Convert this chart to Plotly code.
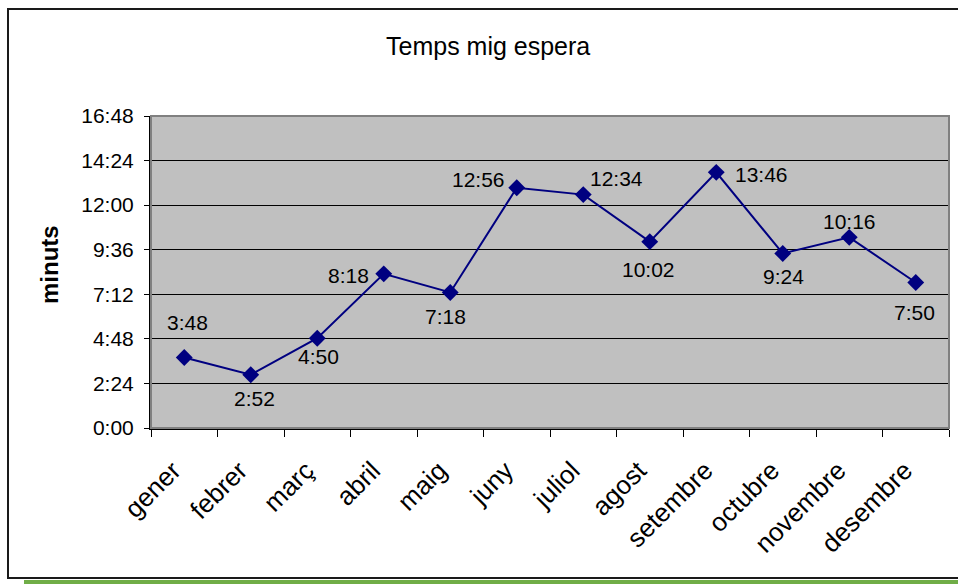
import plotly.graph_objects as go

# Monthly average waiting time (m:ss)
months = ["gener", "febrer", "març", "abril", "maig", "juny",
          "juliol", "agost", "setembre", "octubre", "novembre", "desembre"]
wait_times = ["3:48", "2:52", "4:50", "8:18", "7:18", "12:56",
              "12:34", "10:02", "13:46", "9:24", "10:16", "7:50"]
y_tick_labels = ["0:00", "2:24", "4:48", "7:12", "9:36", "12:00", "14:24", "16:48"]

# Label offsets (pixels) from each point: (dx, dy) with dy positive = up
label_offsets = [(3, 35), (4, -24), (1, -18), (-35, -2), (-5, -24), (-38, 8),
                 (33, 16), (-1, -28), (45, -2), (1, -23), (0, 16), (-1, -30)]


def to_seconds(s):
    m, sec = s.split(":")
    return int(m) * 60 + int(sec)


values = [to_seconds(v) for v in wait_times]
tick_vals = [to_seconds(v) for v in y_tick_labels]

W, H = 958, 584
L, R, T, B = 151, 9, 116, 156
PW, PH = W - L - R, H - T - B


def px_x(p):
    return (p - L) / PW


def px_y(p):
    return (H - B - p) / PH


FONT = "Liberation Sans, Arial, sans-serif"

fig = go.Figure()
fig.add_trace(go.Scatter(
    x=months, y=values, mode="lines+markers",
    line=dict(color="#000080", width=2),
    marker=dict(symbol="diamond", size=13, color="#000080"),
    hoverinfo="skip", showlegend=False,
))

for m, v, s, (dx, dy) in zip(months, values, wait_times, label_offsets):
    fig.add_annotation(x=m, y=v, xref="x", yref="y", text=s, showarrow=False,
                       xshift=dx, yshift=dy,
                       font=dict(family=FONT, size=21, color="black"))

# Chart title and y-axis title
fig.add_annotation(x=px_x(488), y=px_y(46), xref="paper", yref="paper",
                   text="Temps mig espera", showarrow=False,
                   xanchor="center", yanchor="middle",
                   font=dict(family=FONT, size=25, color="black"))
fig.add_annotation(x=px_x(49), y=px_y(265), xref="paper", yref="paper",
                   text="<b>minuts</b>", showarrow=False, textangle=-90,
                   xanchor="center", yanchor="middle",
                   font=dict(family=FONT, size=24, color="black"))

shapes = [
    # plot area border (top/right gray edge)
    dict(type="rect", xref="paper", yref="paper", x0=0, y0=0, x1=1, y1=1,
         line=dict(color="#808080", width=2), layer="above"),
    # outer chart frame
    dict(type="rect", xref="paper", yref="paper",
         x0=px_x(8), y0=px_y(578), x1=px_x(962), y1=px_y(9),
         line=dict(color="#1a1a1a", width=2), layer="above"),
    # green strip under the frame
    dict(type="rect", xref="paper", yref="paper",
         x0=px_x(24), y0=px_y(584), x1=px_x(960), y1=px_y(580),
         line=dict(width=0), fillcolor="#70AD47", layer="above"),
]

fig.update_layout(
    width=W, height=H,
    margin=dict(l=L, r=R, t=T, b=B, pad=0),
    paper_bgcolor="white", plot_bgcolor="#C0C0C0",
    font=dict(family=FONT, size=21, color="black"),
    shapes=shapes,
)
fig.update_xaxes(
    type="category", tickson="boundaries", ticks="outside", ticklen=7,
    tickcolor="black", tickwidth=1, tickangle=-45,
    ticklabelstandoff=15, ticklabelshift=-11,
    showline=True, linecolor="black", linewidth=2, showgrid=False,
    tickfont=dict(family=FONT, size=26, color="black"),
    range=[-0.5, len(months) - 0.5],
)
fig.update_yaxes(
    range=[0, tick_vals[-1]], tickvals=tick_vals, ticktext=y_tick_labels,
    ticks="outside", ticklen=5, tickcolor="black", ticklabelstandoff=6,
    showline=True, linecolor="black", linewidth=2,
    showgrid=True, gridcolor="black", gridwidth=1, zeroline=False,
    tickfont=dict(family=FONT, size=21, color="black"),
)

fig.write_html("out.html")
